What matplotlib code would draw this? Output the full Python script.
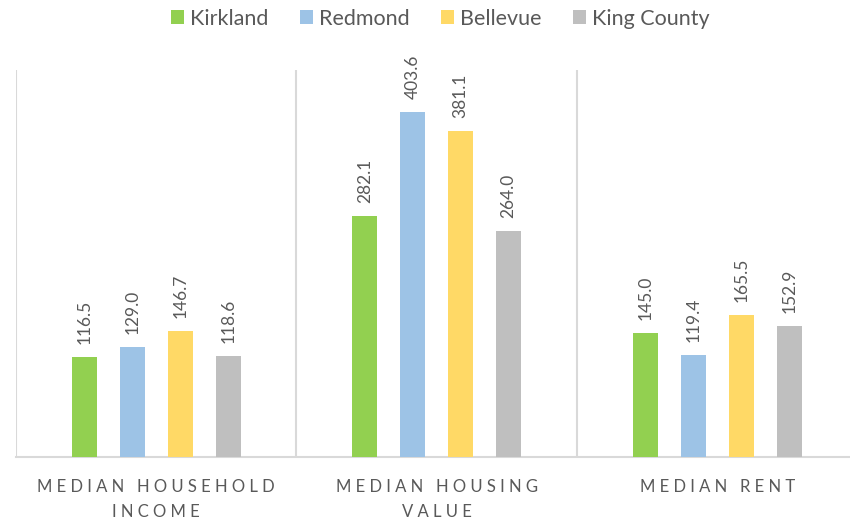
import numpy as np
import matplotlib.pyplot as plt
from matplotlib.patches import Patch

plt.rcParams['font.family'] = ['Lato', 'DejaVu Sans']

categories = ["MEDIAN HOUSEHOLD\nINCOME", "MEDIAN HOUSING\nVALUE", "MEDIAN RENT"]
places = ["Kirkland", "Redmond", "Bellevue", "King County"]
kirkland = [116.5, 282.1, 145.0]
redmond = [129.0, 403.6, 119.4]
bellevue = [146.7, 381.1, 165.5]
king_county = [118.6, 264.0, 152.9]

colors = ["#92D050", "#9DC3E6", "#FFD966", "#BFBFBF"]
text_color = "#595959"
grid_color = "#D9D9D9"


def spaced(label):
    # widen the letter spacing of the category labels
    lines = []
    for line in label.split("\n"):
        words = [" ".join(list(w)) for w in line.split(" ")]
        lines.append("   ".join(words))
    return "\n".join(lines)


fig = plt.figure(figsize=(8.5, 5.23), dpi=100)
ax = fig.add_axes([0.0188, 0.126, 0.99, 0.74])

series = [kirkland, redmond, bellevue, king_county]
x = np.arange(len(categories))
width = 0.089
step = 0.171

for i, (vals, col) in enumerate(zip(series, colors)):
    pos = x + (i - 1.5) * step
    bars = ax.bar(pos, vals, width=width, color=col, zorder=3)
    for b, v in zip(bars, vals):
        ax.annotate(f"{v:.1f}", (b.get_x() + b.get_width() / 2, v),
                    xytext=(0, 13), textcoords="offset pixels",
                    rotation=90, ha="center", va="bottom",
                    fontsize=12.5, color=text_color)

ax.set_xlim(-0.5, len(categories) - 0.5)
ax.set_ylim(0, 452)
for b in np.arange(-0.5, len(categories), 1.0):
    ax.axvline(b, color=grid_color, lw=1.5, zorder=1)

ax.set_yticks([])
ax.set_xticks(x)
ax.set_xticklabels([spaced(c) for c in categories], fontsize=12,
                   color=text_color, linespacing=1.65)
ax.tick_params(axis="x", length=0, pad=16)
for s in ["top", "right", "left"]:
    ax.spines[s].set_visible(False)
ax.spines["bottom"].set_color(grid_color)
ax.spines["bottom"].set_linewidth(1.5)

handles = [Patch(facecolor=c, edgecolor="none") for c in colors]
fig.legend(handles, places, loc="upper center", bbox_to_anchor=(0.518, 1.02),
           ncol=4, frameon=False, fontsize=15.5, labelcolor=text_color,
           handlelength=0.6, handleheight=0.6, handletextpad=0.3,
           columnspacing=1.45)

fig.savefig("out.png", dpi=100)
